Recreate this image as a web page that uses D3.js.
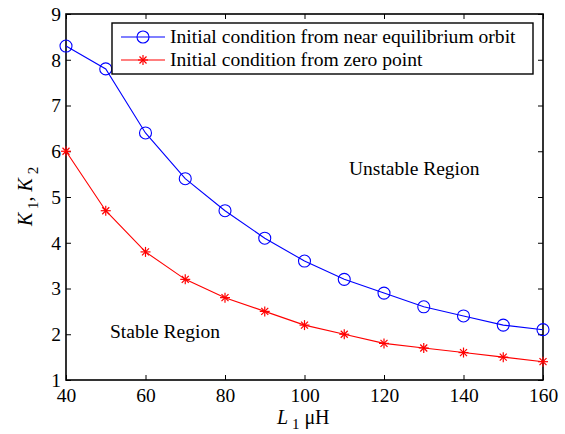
<!DOCTYPE html>
<html>
<head>
<meta charset="utf-8">
<script src="https://cdn.jsdelivr.net/npm/d3@7"></script>
<style>
  body { margin: 0; background: #fff; }
  text { font-family: "Liberation Serif", "DejaVu Serif", serif; }
</style>
</head>
<body>
<svg id="chart" width="565" height="434"></svg>
<script>
// data
const inductance = [40, 50, 60, 70, 80, 90, 100, 110, 120, 130, 140, 150, 160];
const nearOrbit = [8.3, 7.8, 6.4, 5.4, 4.7, 4.1, 3.6, 3.2, 2.9, 2.6, 2.4, 2.2, 2.1];
const zeroPoint = [6.0, 4.7, 3.8, 3.2, 2.8, 2.5, 2.2, 2.0, 1.8, 1.7, 1.6, 1.5, 1.4];
const xTicks = [40, 60, 80, 100, 120, 140, 160];
const yTicks = [1, 2, 3, 4, 5, 6, 7, 8, 9];
const legendLabels = ["Initial condition from near equilibrium orbit", "Initial condition from zero point"];

const svg = d3.select("#chart");
const margin = { top: 14, right: 22, bottom: 54, left: 66 };
const width = 565, height = 434;
const innerW = width - margin.left - margin.right;
const innerH = height - margin.top - margin.bottom;

const g = svg.append("g").attr("transform", `translate(${margin.left},${margin.top})`);

const x = d3.scaleLinear().domain([40, 160]).range([0, innerW]);
const y = d3.scaleLinear().domain([1, 9]).range([innerH, 0]);

const blue = "#0000ff", red = "#ff0000";

// axes with inward ticks, box on all sides
const tickLen = 5;
g.append("g").attr("transform", `translate(0,${innerH})`)
    .call(d3.axisBottom(x).tickValues(xTicks).tickSizeInner(-tickLen).tickSizeOuter(0).tickPadding(8))
    .call(a => a.select(".domain").remove());
g.append("g").call(d3.axisTop(x).tickValues(xTicks).tickSizeInner(-tickLen).tickSizeOuter(0).tickFormat(""))
    .call(a => a.select(".domain").remove());
g.append("g")
    .call(d3.axisLeft(y).tickValues(yTicks).tickSizeInner(-tickLen).tickSizeOuter(0).tickPadding(5))
    .call(a => a.select(".domain").remove());
g.append("g").attr("transform", `translate(${innerW},0)`)
    .call(d3.axisRight(y).tickValues(yTicks).tickSizeInner(-tickLen).tickSizeOuter(0).tickFormat(""))
    .call(a => a.select(".domain").remove());

g.selectAll(".tick line").attr("stroke", "#000").attr("stroke-width", 1);
g.selectAll(".tick text")
    .attr("font-size", 19.5)
    .attr("font-family", "Liberation Serif, serif")
    .attr("fill", "#000");

g.append("rect")
    .attr("width", innerW).attr("height", innerH)
    .attr("fill", "none").attr("stroke", "#000").attr("stroke-width", 1.6);

// series
const series = [
    { name: legendLabels[0], values: nearOrbit, color: blue, marker: "circle" },
    { name: legendLabels[1], values: zeroPoint, color: red, marker: "star" }
];

const line = d3.line()
    .x((d, i) => x(inductance[i]))
    .y(d => y(d));

function drawMarker(sel, type, color) {
    if (type === "circle") {
        sel.append("circle").attr("r", 6).attr("fill", "none")
            .attr("stroke", color).attr("stroke-width", 1.1);
    } else {
        const s = 5;
        [[-s, 0, s, 0], [0, -s, 0, s], [-s * 0.7, -s * 0.7, s * 0.7, s * 0.7], [-s * 0.7, s * 0.7, s * 0.7, -s * 0.7]]
            .forEach(p => sel.append("line")
                .attr("x1", p[0]).attr("y1", p[1]).attr("x2", p[2]).attr("y2", p[3])
                .attr("stroke", color).attr("stroke-width", 1.2));
    }
}

series.forEach(s => {
    g.append("path").datum(s.values)
        .attr("d", line)
        .attr("fill", "none")
        .attr("stroke", s.color)
        .attr("stroke-width", 1.1);
    g.selectAll(null).data(s.values).enter()
        .append("g")
        .attr("transform", (d, i) => `translate(${x(inductance[i])},${y(d)})`)
        .each(function () { drawMarker(d3.select(this), s.marker, s.color); });
});

// region labels
g.append("text").attr("x", 283).attr("y", 161)
    .attr("font-size", 19.5).text("Unstable Region");
g.append("text").attr("x", 44).attr("y", 324)
    .attr("font-size", 19.5).text("Stable Region");

// legend
const legend = g.append("g").attr("transform", "translate(46,9)");
legend.append("rect").attr("width", 421).attr("height", 51)
    .attr("fill", "#fff").attr("stroke", "#000").attr("stroke-width", 1.4);
series.forEach((s, i) => {
    const row = legend.append("g").attr("transform", `translate(0,${14 + i * 23})`);
    row.append("line").attr("x1", 9).attr("x2", 53).attr("y1", 0).attr("y2", 0)
        .attr("stroke", s.color).attr("stroke-width", 1.1);
    const m = row.append("g").attr("transform", "translate(31,0)");
    drawMarker(m, s.marker, s.color);
    row.append("text").attr("x", 58).attr("y", 6)
        .attr("font-size", 19.6).text(s.name);
});

// axis titles
svg.append("text")
    .attr("transform", "translate(277,424)")
    .attr("font-size", 20)
    .html('<tspan font-style="italic">L</tspan><tspan dy="5" font-size="15"> 1</tspan><tspan dy="-5"> μH</tspan>');

svg.append("text")
    .attr("transform", "translate(32,226) rotate(-90)")
    .attr("font-size", 20)
    .html('<tspan font-style="italic">K</tspan><tspan dy="6" font-size="15"> 1</tspan><tspan dy="-6">, </tspan><tspan font-style="italic">K</tspan><tspan dy="6" font-size="15"> 2</tspan>');
</script>
</body>
</html>
